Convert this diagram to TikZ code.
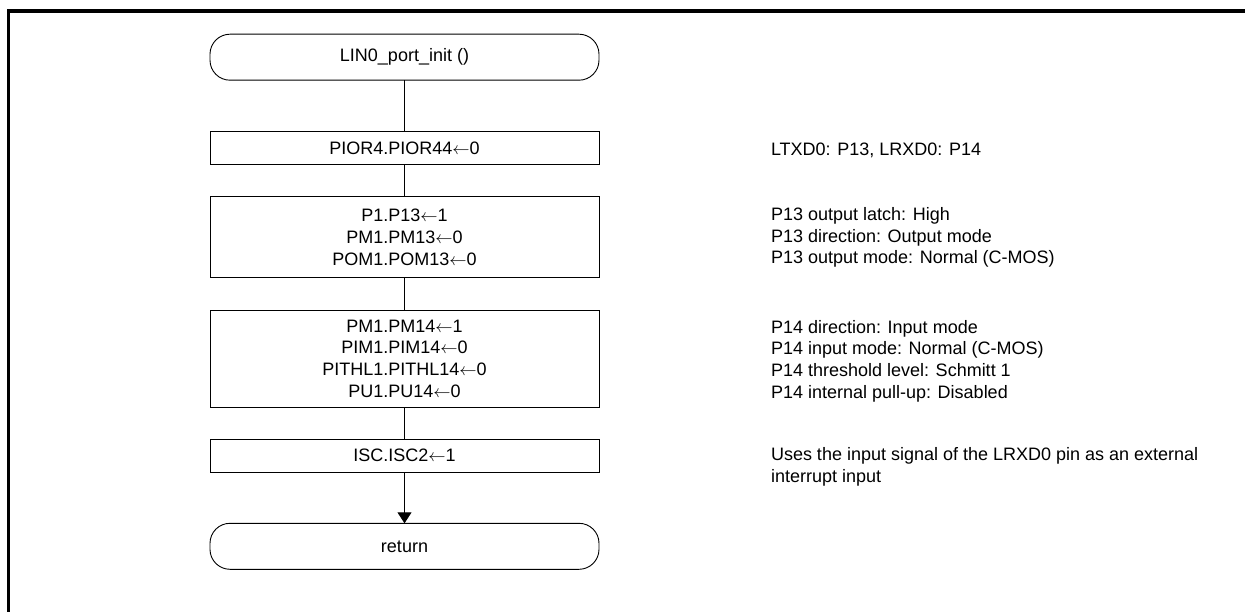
\documentclass[tikz,border=0pt]{standalone}
\usepackage{fontspec}
\setmainfont{Liberation Sans}
\usetikzlibrary{arrows.meta}
\newcommand\myarr{\ensuremath{\leftarrow}}
\begin{document}
\begin{tikzpicture}[x=1pt,y=-1pt,
  every node/.style={font=\fontsize{18}{21.7}\selectfont, inner sep=0pt, outer sep=0pt},
  term/.style={draw, line width=0.9pt, rounded corners=20pt, minimum width=389pt, minimum height=46pt},
  proc/.style={draw, line width=0.9pt, rectangle, minimum width=389pt, align=center},
  note/.style={align=left, anchor=west},
  conn/.style={line width=0.9pt},
  arr/.style={line width=0.9pt, -{Triangle[length=11pt,width=14pt]}}
]
\useasboundingbox (0,0) rectangle (1245,612);
% frame
\draw[line width=3.5pt, line join=miter] (8.7,612) -- (8.7,10.8) -- (1245,10.8);

% flow
\node[term] (start) at (404.5,57.2) {LIN0\_port\_init ()};
\node[proc, minimum height=32.6pt] (b1) at (404.5,148) {PIOR4.PIOR44\myarr0};
\node[proc, minimum height=81.3pt] (b2) at (404.5,237.3) {P1.P13\myarr1\\PM1.PM13\myarr0\\POM1.POM13\myarr0};
\node[proc, minimum height=97.3pt] (b3) at (404.5,358.7) {PM1.PM14\myarr1\\PIM1.PIM14\myarr0\\PITHL1.PITHL14\myarr0\\PU1.PU14\myarr0};
\node[proc, minimum height=33pt] (b4) at (404.5,455.8) {ISC.ISC2\myarr1};
\node[term] (ret) at (404.5,546.3) {return};

\draw[conn] (start) -- (b1);
\draw[conn] (b1) -- (b2);
\draw[conn] (b2) -- (b3);
\draw[conn] (b3) -- (b4);
\draw[arr] (b4) -- (ret);

% comments
\node[note] (c1) at (771,150) {LTXD0: P13, LRXD0: P14};
\node[note] (c2) at (771,237.5) {P13 output latch: High\\P13 direction: Output mode\\P13 output mode: Normal (C-MOS)};
\node[note] (c3) at (771,361) {P14 direction: Input mode\\P14 input mode: Normal (C-MOS)\\P14 threshold level: Schmitt 1\\P14 internal pull-up: Disabled};
\node[note] (c4) at (771,467) {Uses the input signal of the LRXD0 pin as an external\\interrupt input};
\end{tikzpicture}
\end{document}
